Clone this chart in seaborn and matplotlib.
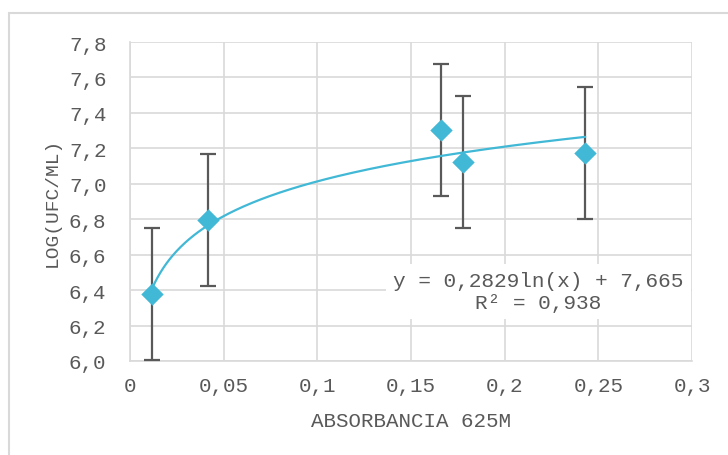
import numpy as np
import pandas as pd
import seaborn as sns
import matplotlib
matplotlib.use("Agg")
import matplotlib.pyplot as plt
from matplotlib.ticker import FuncFormatter, MultipleLocator
from matplotlib.lines import Line2D

# data
absorbance = [0.0117, 0.0416, 0.166, 0.178, 0.243]
log_ufc = [6.378, 6.795, 7.303, 7.123, 7.174]
err = [0.372, 0.372, 0.373, 0.372, 0.372]
fit_a = 0.2829
fit_b = 7.665
eq_text = "y = 0,2829ln(x) + 7,665"
r2_text = "R² = 0,938"
x_label = "ABSORBANCIA 625M"
y_label = "LOG(UFC/ML)"

sns.set_theme(style="white")
plt.rcParams['font.family'] = ['Liberation Mono', 'DejaVu Sans']

W, H = 728, 456
fig = plt.figure(figsize=(W / 100, H / 100), dpi=100)
L, R, T, B = 130, 692, 43, 362
ax = fig.add_axes([L / W, 1 - B / H, (R - L) / W, (B - T) / H])

df = pd.DataFrame({"x": absorbance, "y": log_ufc, "e": err})

grid_c = "#d9d9d9"
text_c = "#595959"
mark_c = "#41b8d5"

ax.errorbar(df["x"], df["y"], yerr=df["e"], fmt="none", ecolor="#595959",
            elinewidth=1.6, capsize=6, capthick=1.6, zorder=3)

xs = np.linspace(min(absorbance), max(absorbance), 300)
fit_df = pd.DataFrame({"x": xs, "y": fit_a * np.log(xs) + fit_b})
sns.lineplot(data=fit_df, x="x", y="y", ax=ax, color=mark_c, linewidth=1.6, zorder=4)

sns.scatterplot(data=df, x="x", y="y", ax=ax, marker="D", s=130, color=mark_c,
                edgecolor=mark_c, linewidth=0, zorder=5)

ax.set_xlim(0, 0.3)
ax.set_ylim(6.0, 7.8)
ax.xaxis.set_major_locator(MultipleLocator(0.05))
ax.yaxis.set_major_locator(MultipleLocator(0.2))


def fmt_x(v, pos):
    s = ("%.2f" % v).rstrip("0").rstrip(".")
    if abs(v) < 1e-9:
        s = "0"
    return s.replace(".", ",")


ax.xaxis.set_major_formatter(FuncFormatter(fmt_x))
ax.yaxis.set_major_formatter(FuncFormatter(lambda v, p: ("%.1f" % v).replace(".", ",")))

ax.grid(True, color=grid_c, linewidth=1.2)
ax.set_axisbelow(True)
for s in ["top", "right"]:
    ax.spines[s].set_visible(False)
for s in ["left", "bottom"]:
    ax.spines[s].set_color(grid_c)
    ax.spines[s].set_linewidth(1.2)
ax.tick_params(axis="both", which="major", length=5, width=1.2, color=grid_c,
               labelcolor=text_c, labelsize=15, direction="out")
ax.tick_params(axis="x", pad=6)
ax.tick_params(axis="y", pad=12)

ax.set_xlabel(x_label, color=text_c, fontsize=15, labelpad=11)
ax.set_ylabel(y_label, color=text_c, fontsize=14, labelpad=6)

# equation label box
ax.text(0.218, 6.39, eq_text + "\n" + r2_text, ha="center", va="center",
        fontsize=15.2, color=text_c, linespacing=1.2, zorder=6,
        bbox=dict(facecolor="white", edgecolor="none", pad=5))

# outer chart border (left and top edges visible)
fig.lines.append(Line2D([8.5 / W, 8.5 / W], [0, 1 - 14 / H], transform=fig.transFigure,
                        color=grid_c, linewidth=1.5))
fig.lines.append(Line2D([8.5 / W, 1], [1 - 14 / H, 1 - 14 / H], transform=fig.transFigure,
                        color=grid_c, linewidth=1.5))

fig.savefig("out.png", dpi=100, facecolor="white")
